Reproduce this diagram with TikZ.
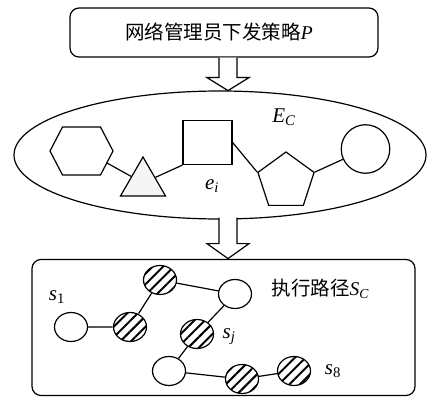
\documentclass[tikz,border=0pt]{standalone}
\usepackage{fontspec}
\setmainfont{Liberation Serif}
\newfontfamily\cjk{Noto Sans CJK SC}
\usetikzlibrary{shapes.geometric,patterns.meta,calc}
\begin{document}
\begin{tikzpicture}[x=1pt,y=-1pt,line width=1.2pt,
  box/.style={draw,rounded corners=9pt,inner sep=0pt},
  shp/.style={draw,inner sep=0pt},
  plain/.style={draw,ellipse,inner sep=0pt,minimum width=33pt,minimum height=29pt},
  hatched/.style={plain,pattern={Lines[angle=45,distance=7.5pt,line width=2pt]}},
  lbl/.style={inner sep=0pt,font=\fontsize{21}{24}\selectfont},
  hollow/.style={draw,line width=1.2pt,fill=white}]
\useasboundingbox (0,0) rectangle (427,398);
% top box
\node[box,minimum width=308pt,minimum height=49pt] (top) at (224,32.5) {};
\node[inner sep=0pt] (toptxt) at (219,32) {\fontsize{19.5}{22}\selectfont\cjk 网络管理员下发策略{\rmfamily\itshape P}};
% ellipse
\node[draw,ellipse,inner sep=0pt,minimum width=412pt,minimum height=128pt] (ec) at (220,155) {};
% arrow 1
\coordinate (a1) at ($(top.south)+(4,0)$);
\draw[hollow] ($(a1)+(-9,0)$) -- ($(a1)+(-9,20)$) -- ($(a1)+(-21,20)$) -- ($(a1)+(0,33)$) -- ($(a1)+(21,20)$) -- ($(a1)+(9,20)$) -- ($(a1)+(9,0)$);
% shapes in ellipse
\coordinate (hex) at (81.5,151);
\draw[line join=miter] ($(hex)+(-31.5,0)$) -- ($(hex)+(-19,-24)$) -- ($(hex)+(19,-24)$) -- ($(hex)+(31.5,0)$) -- ($(hex)+(19,24)$) -- ($(hex)+(-19,24)$) -- cycle;
\coordinate (hexe) at ($(hex)+(25.5,12)$);
\node[shp,regular polygon,regular polygon sides=3,minimum size=52pt,fill=black!4] (tri) at (143,183) {};
\node[shp,rectangle,minimum width=49pt,minimum height=44pt] (sq) at (207.5,142.5) {};
\node[shp,regular polygon,regular polygon sides=5,minimum size=59pt] (pent) at (286,181.5) {};
\node[shp,circle,minimum size=48.5pt] (circ) at (365.5,149) {};
\draw (hexe) -- (tri);
\draw (tri) -- (sq.south west);
\draw (sq.east) -- (pent.corner 2);
\draw (pent.corner 5) -- (circ);
\node[lbl] (ecl) at (284,117) {\textit{E}\textsubscript{\textit{C}}};
\node[lbl] (eil) at (212,186) {\textit{e}\textsubscript{\textit{i}}};
% arrow 2
\coordinate (a2) at ($(ec.south)+(8,0)$);
\draw[hollow] ($(a2)+(-9,-2)$) -- ($(a2)+(-9,24)$) -- ($(a2)+(-21,24)$) -- ($(a2)+(0,39)$) -- ($(a2)+(21,24)$) -- ($(a2)+(9,24)$) -- ($(a2)+(9,-2)$);
% bottom box
\node[box,minimum width=383pt,minimum height=136pt] (bot) at (223.5,327.5) {};
\node[inner sep=0pt,anchor=west] (path) at (271,289) {\fontsize{19.5}{22}\selectfont\cjk 执行路径{\rmfamily\itshape S}\textsubscript{\rmfamily\itshape C}};
\node[plain] (s1) at (71,327) {};
\node[hatched] (nA) at (130,327) {};
\node[hatched] (nB) at (160,280) {};
\node[plain] (nC) at (235,294) {};
\node[hatched] (nD) at (197,334) {};
\node[plain] (nE) at (169,371) {};
\node[hatched] (nF) at (242,379) {};
\node[hatched] (nG) at (294,371) {};
\draw (s1) -- (nA) -- (nB) -- (nC) -- (nD) -- (nE) -- (nF) -- (nG);
\node[lbl] (s1l) at (57,297) {\textit{s}\textsubscript{1}};
\node[lbl] (sjl) at (229,337) {\textit{s}\textsubscript{\textit{j}}};
\node[lbl] (s8l) at (333,371) {\textit{s}\textsubscript{8}};
\end{tikzpicture}
\end{document}
